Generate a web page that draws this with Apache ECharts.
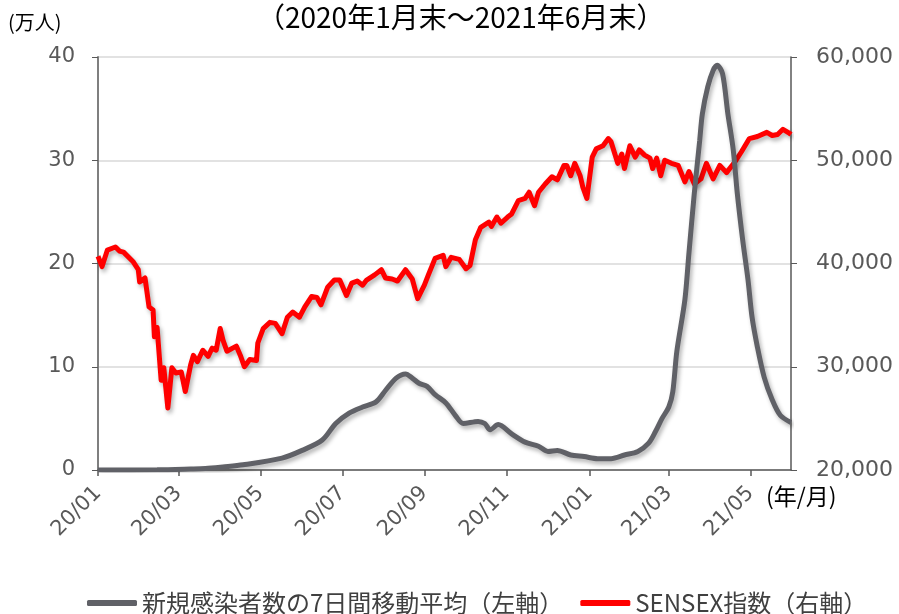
<!DOCTYPE html>
<html lang="ja">
<head>
    <meta charset="UTF-8">
    <title>インド 新規感染者数とSENSEX指数</title>
    <script src="https://cdn.jsdelivr.net/npm/echarts@6/dist/echarts.min.js"></script>
    <style>
        html, body, #chart {
            width: 100%;
            height: 100%;
            padding: 0;
            margin: 0;
            background: #fff;
        }
    </style>
</head>
<body>
<div id="chart"></div>
<script>
    // 新規感染者数の7日間移動平均（万人）
    var caseDates = [
        "2020-01-31", "2020-03-15", "2020-04-09", "2020-04-20", "2020-05-03", "2020-05-18",
        "2020-06-16", "2020-07-01", "2020-07-16", "2020-07-26", "2020-08-05", "2020-08-15",
        "2020-08-25", "2020-09-01", "2020-09-09", "2020-09-16", "2020-09-21", "2020-09-26",
        "2020-10-02", "2020-10-08", "2020-10-16", "2020-10-23", "2020-10-29", "2020-11-09",
        "2020-11-14", "2020-11-18", "2020-11-24", "2020-12-04", "2020-12-14", "2020-12-24",
        "2020-12-31", "2021-01-07", "2021-01-17", "2021-01-27", "2021-02-06", "2021-02-16",
        "2021-02-26", "2021-03-08", "2021-03-16", "2021-03-21", "2021-03-26", "2021-03-31",
        "2021-04-03", "2021-04-06", "2021-04-12", "2021-04-15", "2021-04-19", "2021-04-23",
        "2021-04-25", "2021-04-29", "2021-05-03", "2021-05-06", "2021-05-10", "2021-05-14",
        "2021-05-18", "2021-05-21", "2021-05-25", "2021-05-29", "2021-06-01", "2021-06-05",
        "2021-06-10", "2021-06-16", "2021-06-22", "2021-06-30"
    ];
    var caseValues = [
        0, 0.02, 0.1, 0.15, 0.3, 0.5,
        1.15, 1.9, 2.9, 4.5, 5.5, 6.1,
        6.6, 7.7, 8.9, 9.3, 8.9, 8.4,
        8.1, 7.3, 6.5, 5.3, 4.5, 4.7,
        4.5, 3.9, 4.4, 3.5, 2.7, 2.3,
        1.8, 1.9, 1.45, 1.3, 1.1, 1.1,
        1.45, 1.8, 2.6, 3.7, 5.0, 6.1,
        7.6, 11.5, 16.5, 21, 26.8, 31.9,
        34.5, 37.1, 38.7, 39.2, 38.4, 34.5,
        31.0, 26.8, 22.3, 18.4, 14.8, 11.9,
        9.0, 6.8, 5.3, 4.6
    ];

    // SENSEX指数
    var sensexDates = [
        "2020-01-31", "2020-02-03", "2020-02-07", "2020-02-13", "2020-02-16", "2020-02-19",
        "2020-02-26", "2020-03-01", "2020-03-02", "2020-03-06", "2020-03-09", "2020-03-12",
        "2020-03-13", "2020-03-15", "2020-03-18", "2020-03-20", "2020-03-23", "2020-03-26",
        "2020-03-29", "2020-04-02", "2020-04-05", "2020-04-09", "2020-04-11", "2020-04-14",
        "2020-04-18", "2020-04-22", "2020-04-25", "2020-04-28", "2020-05-01", "2020-05-03",
        "2020-05-06", "2020-05-13", "2020-05-16", "2020-05-19", "2020-05-23", "2020-05-28",
        "2020-05-29", "2020-06-02", "2020-06-07", "2020-06-11", "2020-06-16", "2020-06-20",
        "2020-06-24", "2020-06-29", "2020-07-03", "2020-07-08", "2020-07-12", "2020-07-15",
        "2020-07-20", "2020-07-25", "2020-07-29", "2020-08-03", "2020-08-07", "2020-08-11",
        "2020-08-15", "2020-08-18", "2020-08-24", "2020-08-29", "2020-09-01", "2020-09-06",
        "2020-09-10", "2020-09-16", "2020-09-21", "2020-09-25", "2020-09-30", "2020-10-03",
        "2020-10-08", "2020-10-14", "2020-10-16", "2020-10-20", "2020-10-26", "2020-10-31",
        "2020-11-03", "2020-11-07", "2020-11-11", "2020-11-17", "2020-11-19", "2020-11-23",
        "2020-11-26", "2020-12-01", "2020-12-04", "2020-12-09", "2020-12-14", "2020-12-17",
        "2020-12-21", "2020-12-24", "2020-12-29", "2021-01-03", "2021-01-07", "2021-01-12",
        "2021-01-14", "2021-01-17", "2021-01-20", "2021-01-24", "2021-01-26", "2021-01-29",
        "2021-02-02", "2021-02-05", "2021-02-10", "2021-02-14", "2021-02-16", "2021-02-21",
        "2021-02-24", "2021-02-26", "2021-03-02", "2021-03-06", "2021-03-09", "2021-03-13",
        "2021-03-17", "2021-03-19", "2021-03-22", "2021-03-25", "2021-03-28", "2021-04-02",
        "2021-04-07", "2021-04-12", "2021-04-15", "2021-04-19", "2021-04-24", "2021-04-28",
        "2021-05-03", "2021-05-08", "2021-05-13", "2021-05-19", "2021-05-24", "2021-05-30",
        "2021-06-05", "2021-06-12", "2021-06-16", "2021-06-20", "2021-06-24", "2021-06-29",
        "2021-06-30"
    ];
    var sensexValues = [
        40700, 39700, 41300, 41600, 41200, 41100,
        40200, 39400, 38200, 38600, 35800, 35500,
        32900, 33800, 28700, 29900, 26000, 29900,
        29400, 29500, 27600, 30200, 31100, 30500,
        31600, 31000, 31800, 31600, 33700, 32600,
        31500, 32000, 31100, 30000, 30700, 30600,
        32300, 33700, 34300, 34200, 33200, 34800,
        35300, 34800, 35800, 36800, 36700, 36000,
        37700, 38400, 38400, 36900, 38100, 38300,
        37900, 38400, 38900, 39400, 38600, 38500,
        38300, 39400, 38500, 36600, 37900, 38900,
        40500, 40800, 39700, 40600, 40400, 39500,
        39800, 42300, 43500, 44000, 43600, 44500,
        43900, 44500, 44800, 46100, 46300, 46900,
        45600, 46900, 47700, 48400, 48100, 49500,
        49500, 48500, 49700, 48500, 47400, 46300,
        50300, 51100, 51400, 52100, 51800, 49700,
        50600, 49200, 51400, 50300, 51000, 50500,
        50200, 49200, 50200, 48500, 50000, 49700,
        49500, 47900, 48900, 47700, 48200, 49700,
        48200, 49500, 48800, 49800, 50800, 52100,
        52300, 52700, 52400, 52500, 53000, 52600,
        52500
    ];

    // x軸の目盛（各月末）
    var startDate = "2020-01-31";
    var endDate = "2021-06-30";
    var tickDates = [
        "2020-01-31", "2020-03-31", "2020-05-31", "2020-07-31", "2020-09-30",
        "2020-11-30", "2021-01-31", "2021-03-31", "2021-05-31"
    ];
    var tickLabels = ["20/01", "20/03", "20/05", "20/07", "20/09", "20/11", "21/01", "21/03", "21/05"];

    // 日付 -> 起点からの日数
    function dayIndex(s) {
        var p = s.split("-");
        var t = Date.UTC(+p[0], +p[1] - 1, +p[2]);
        var q = startDate.split("-");
        var t0 = Date.UTC(+q[0], +q[1] - 1, +q[2]);
        return Math.round((t - t0) / 86400000);
    }

    var tickDays = tickDates.map(dayIndex);
    var caseData = caseDates.map(function (d, i) { return [dayIndex(d), caseValues[i]]; });
    var sensexData = sensexDates.map(function (d, i) { return [dayIndex(d), sensexValues[i]]; });

    var numFont = "DejaVu Sans";
    var jpFont = "Noto Sans CJK JP";
    var gray = "#606167";
    var red = "#ff0000";

    var myChart = echarts.init(document.getElementById("chart"));
    myChart.setOption({
        animation: false,
        title: {
            text: "（2020年1月末～2021年6月末）",
            left: 252,
            top: -2,
            textStyle: {
                fontFamily: jpFont,
                fontSize: 28,
                fontWeight: "normal",
                color: "#000"
            }
        },
        graphic: [{
            type: "text",
            left: 8,
            top: 12,
            style: {
                text: "(万人)",
                font: "20px " + jpFont,
                fill: "#000"
            }
        }, {
            type: "text",
            left: 766,
            top: 485,
            style: {
                text: "(年/月)",
                font: "23px " + jpFont,
                fill: "#000"
            }
        }],
        legend: {
            left: 82,
            top: 586,
            itemGap: 17,
            itemWidth: 50,
            itemHeight: 6,
            icon: "roundRect",
            textStyle: {
                fontFamily: jpFont,
                fontSize: 24,
                color: "#404040"
            },
            data: ["新規感染者数の7日間移動平均（左軸）", "SENSEX指数（右軸）"]
        },
        grid: {
            left: 98,
            right: 108,
            top: 57,
            bottom: 144,
            containLabel: false
        },
        xAxis: {
            type: "value",
            min: 0,
            max: dayIndex(endDate),
            axisLine: {
                lineStyle: {color: "#595959", width: 1.5}
            },
            axisTick: {
                show: true,
                length: 6,
                customValues: tickDays,
                lineStyle: {color: "#595959", width: 1.5}
            },
            axisLabel: {
                customValues: tickDays,
                rotate: 45,
                margin: 20,
                fontFamily: numFont,
                fontSize: 21,
                color: "#595959",
                formatter: function (value) {
                    var i = tickDays.indexOf(value);
                    return i >= 0 ? tickLabels[i] : "";
                }
            },
            splitLine: {show: false}
        },
        yAxis: [{
            type: "value",
            position: "left",
            min: 0,
            max: 40,
            interval: 10,
            axisLine: {
                show: true,
                lineStyle: {color: "#7f7f7f", width: 2}
            },
            axisTick: {
                show: true,
                length: 6,
                lineStyle: {color: "#595959"}
            },
            axisLabel: {
                margin: 23,
                fontFamily: numFont,
                fontSize: 21,
                color: "#595959"
            },
            splitLine: {
                lineStyle: {color: "#d9d9d9", width: 1.5}
            }
        }, {
            type: "value",
            position: "right",
            min: 20000,
            max: 60000,
            interval: 10000,
            axisLine: {
                show: true,
                lineStyle: {color: "#595959", width: 1.5}
            },
            axisTick: {
                show: true,
                length: 6,
                lineStyle: {color: "#595959"}
            },
            axisLabel: {
                margin: 25,
                fontFamily: numFont,
                fontSize: 22,
                color: "#595959"
            },
            splitLine: {show: false}
        }],
        series: [{
            name: "新規感染者数の7日間移動平均（左軸）",
            type: "line",
            yAxisIndex: 0,
            data: caseData,
            showSymbol: false,
            smooth: 0.3,
            z: 4,
            itemStyle: {color: gray},
            lineStyle: {
                color: gray,
                width: 5,
                shadowColor: "rgba(0,0,0,0.3)",
                shadowBlur: 4,
                shadowOffsetX: 2,
                shadowOffsetY: 3
            }
        }, {
            name: "SENSEX指数（右軸）",
            type: "line",
            yAxisIndex: 1,
            data: sensexData,
            showSymbol: false,
            z: 3,
            itemStyle: {color: red},
            lineStyle: {
                color: red,
                width: 5,
                join: "round",
                shadowColor: "rgba(0,0,0,0.3)",
                shadowBlur: 4,
                shadowOffsetX: 2,
                shadowOffsetY: 3
            }
        }]
    });
</script>
</body>
</html>
